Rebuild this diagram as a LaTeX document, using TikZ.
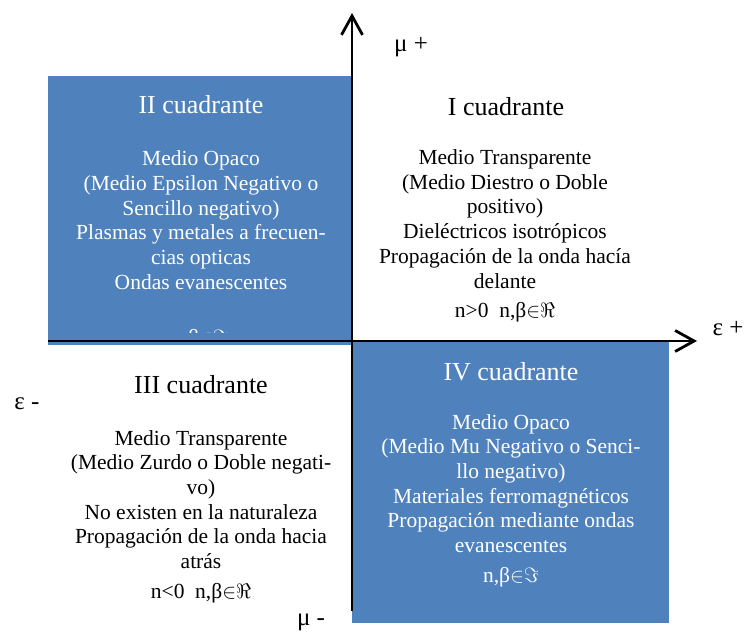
\documentclass[tikz,border=0pt]{standalone}
\usepackage{fontspec}
\setmainfont{Liberation Serif}
\usetikzlibrary{arrows.meta}

\definecolor{quadblue}{RGB}{79,129,189}

\tikzset{
    quadbox/.style={fill=quadblue, draw=none},
    axis/.style={line width=2.8pt, -{Straight Barb[length=19pt,width=21pt,line width=2.8pt]}},
    quadtitle/.style={inner sep=0pt, font=\fontsize{26}{30}\selectfont},
    quadtext/.style={inner sep=0pt, align=center, font=\fontsize{21.5}{24.7}\selectfont},
    axislabel/.style={inner sep=0pt, font=\fontsize{25}{28}\selectfont}
}

\begin{document}
\begin{tikzpicture}[x=1pt, y=1pt]
    \useasboundingbox (0,0) rectangle (749,632);

    % Blue quadrants (II and IV)
    \fill[quadbox] (48,287) rectangle (352,556);
    \fill[quadbox] (352,9) rectangle (669,291);

    % Axes
    \coordinate (ybot) at (352,21);
    \coordinate (ytop) at (352,619);
    \coordinate (xleft) at (48,291);
    \coordinate (xright) at (697,291);
    \draw[axis] (ybot) -- (ytop);
    \draw[axis] (xleft) -- (xright);

    % Axis labels
    \node[axislabel] (mupos) at (411,585) {μ +};
    \node[axislabel] (epspos) at (728,303) {ε +};
    \node[axislabel] (epsneg) at (27,228) {ε -};
    \node[axislabel] (muneg) at (311,10) {μ -};

    % I cuadrante
    \node[quadtitle] (titleI) at (506,525) {I cuadrante};
    \node[quadtext] (textI) at (505,396) {Medio Transparente\\
        (Medio Diestro o Doble\\ positivo)\\
        Dieléctricos isotrópicos\\
        Propagación de la onda hacía\\ delante\\[5pt]
        n>0\enspace n,β${\in}\Re$};

    % II cuadrante
    \node[quadtitle, text=white] (titleII) at (201,527) {II cuadrante};
    \node[quadtext, text=white] (textII) at (201,412) {Medio Opaco\\
        (Medio Epsilon Negativo o\\ Sencillo negativo)\\
        Plasmas y metales a frecuen-\\ cias opticas\\
        Ondas evanescentes};
    \begin{scope}
        \clip (48,299) rectangle (352,556);
        \node[quadtext, text=white] (cutII) at (200,293) {n,β${\in}\Im$};
    \end{scope}

    % III cuadrante
    \node[quadtitle] (titleIII) at (201,247) {III cuadrante};
    \node[quadtext] (textIII) at (201,115.5) {Medio Transparente\\
        (Medio Zurdo o Doble negati-\\ vo)\\
        No existen en la naturaleza\\
        Propagación de la onda hacia\\ atrás\\[5pt]
        n<0\enspace n,β${\in}\Re$};

    % IV cuadrante
    \node[quadtitle, text=white] (titleIV) at (511,260) {IV cuadrante};
    \node[quadtext, text=white] (textIV) at (511,131.5) {Medio Opaco\\
        (Medio Mu Negativo o Senci-\\ llo negativo)\\
        Materiales ferromagnéticos\\
        Propagación mediante ondas\\ evanescentes\\[5pt]
        n,β${\in}\Im$};
\end{tikzpicture}
\end{document}
